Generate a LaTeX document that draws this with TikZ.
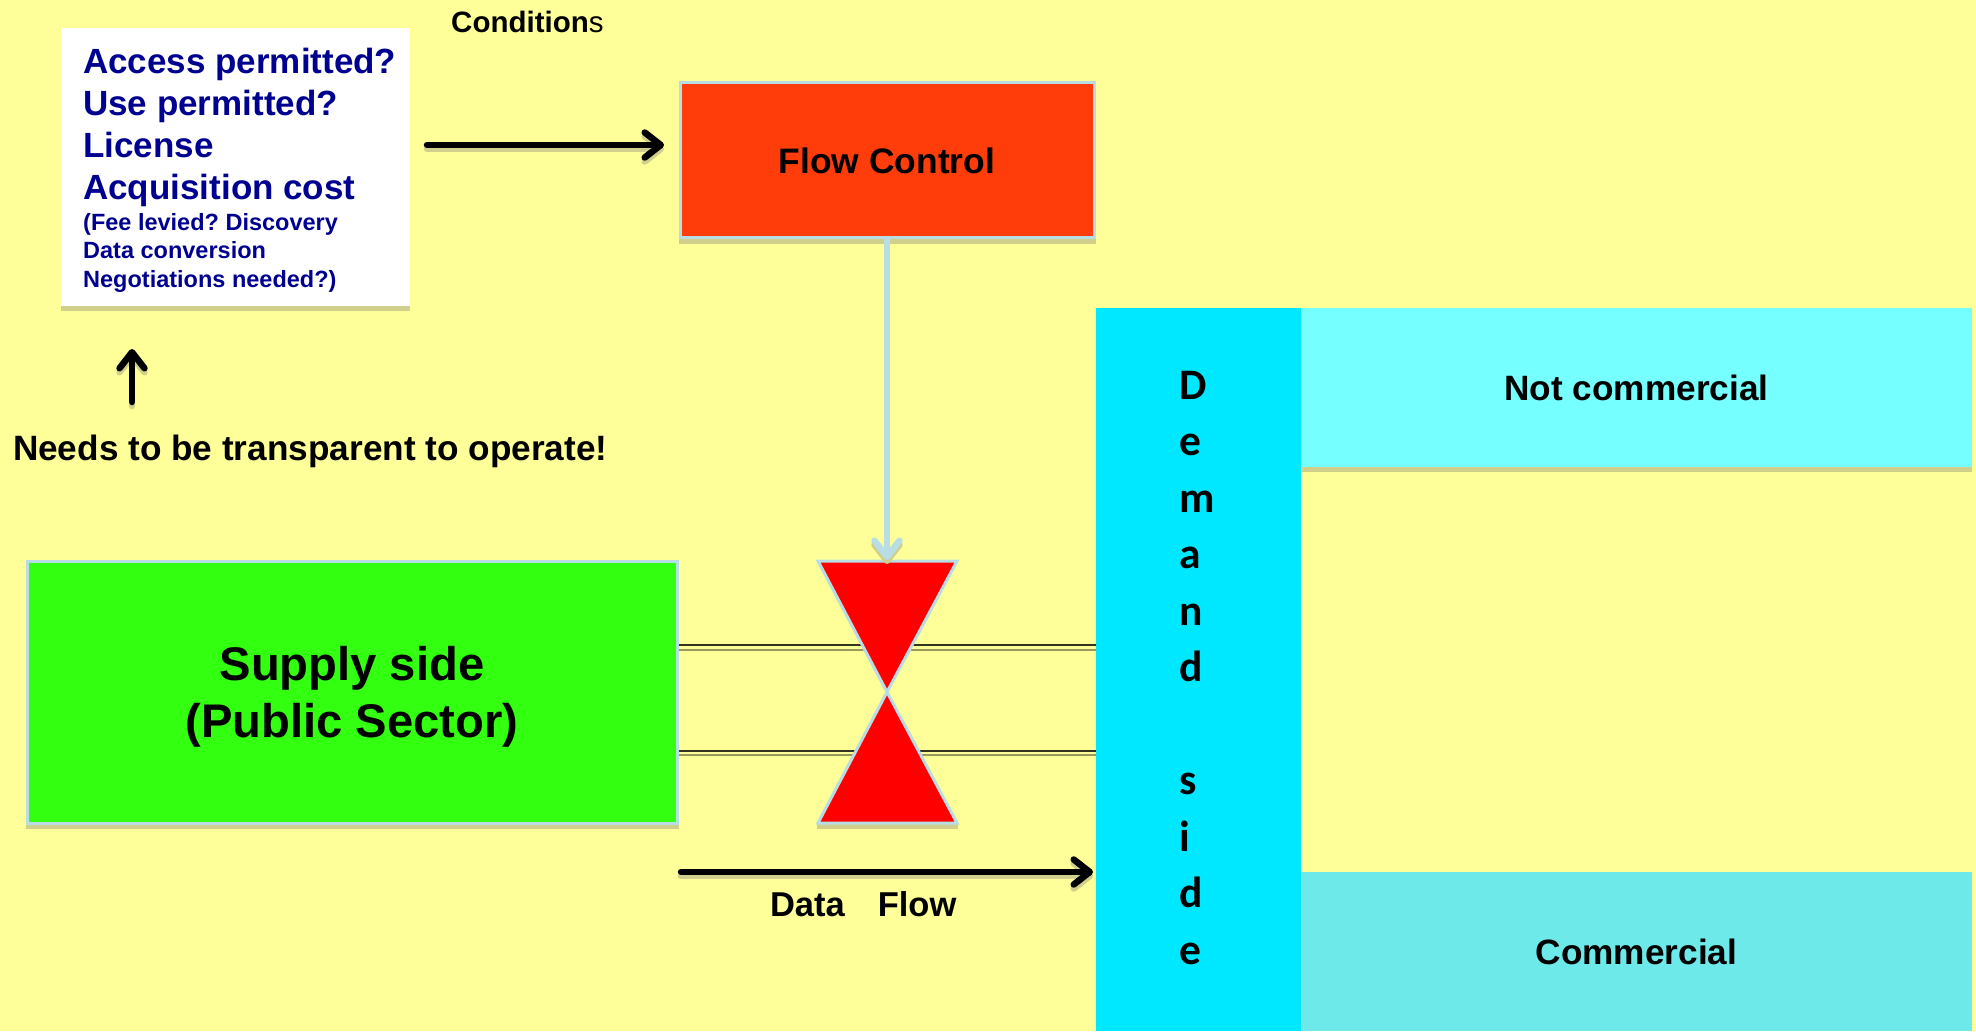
\documentclass[tikz,border=0pt]{standalone}
\usepackage{fontspec}
\setmainfont{Liberation Sans}
\newfontfamily\carlitofont{Carlito}
\usetikzlibrary{arrows.meta}
\frenchspacing
\definecolor{bgc}{HTML}{FFFF99}
\definecolor{shc}{HTML}{D0D08C}
\definecolor{edgec}{HTML}{B8DDE4}
\definecolor{navyc}{HTML}{000090}
\definecolor{flowc}{HTML}{FF3D0A}
\definecolor{greenc}{HTML}{33FF11}
\definecolor{demandc}{HTML}{00E8FF}
\definecolor{notcomc}{HTML}{75FFFF}
\definecolor{comc}{HTML}{6DE9E9}
\newcommand{\fsz}[2]{\fontsize{#1}{#2}\selectfont}
\tikzset{
  boxshape/.style={anchor=north west,inner sep=0pt,outer sep=0pt,align=center},
  edged/.style={draw=edgec,line width=3pt},
  barb/.style={-{Straight Barb[length=16pt,width=25pt,round]},line cap=round},
  blackarrow/.style={draw=black,line width=6.5pt,barb},
  shadowarrow/.style={draw=shc,line width=6.5pt,barb,transform canvas={yshift=-4pt}},
  lbl/.style={inner sep=0pt,outer sep=0pt},
  hline/.style={draw=black!80!bgc,line width=2pt},
  hlineb/.style={draw=black!40!bgc,line width=2pt}
}
\begin{document}
\begin{tikzpicture}[x=1pt,y=-1pt]
\useasboundingbox (0,0) rectangle (1976,1031);
\fill[bgc] (0,0) rectangle (1976,1031);

% shadows
\fill[shc] (61,306) rectangle (410,311);
\fill[shc] (679,238) rectangle (1096,244);
\fill[shc] (26,824) rectangle (679,829);
\fill[shc] (1301,467) rectangle (1972,472);
\fill[shc] (817,824) rectangle (958,829);

% double lines behind the valve
\draw[hlineb] (679,650) -- (1096,650);
\draw[hline] (679,645) -- (1096,645);
\draw[hlineb] (679,755) -- (1096,755);
\draw[hline] (679,751) -- (1096,751);

% boxes
\node[boxshape,fill=white,minimum width=349pt,minimum height=278pt] (cond) at (61,28) {};
\node[boxshape,fill=flowc,edged,minimum width=414pt,minimum height=155pt] (flow) at (680,82) {};
\node[lbl,font=\bfseries\fsz{35.4}{36}] (flowtxt) at (887,161) {Flow Control};
\node[boxshape,fill=greenc,edged,minimum width=650pt,minimum height=262pt] (supply) at (27,561) {};
\node[lbl,font=\bfseries\fsz{47.2}{57},align=center] (supplytxt) at (352,697) {Supply side\\(Public Sector)};
\node[boxshape,fill=demandc,minimum width=205pt,minimum height=723pt] (demand) at (1096,308) {};
\node[boxshape,fill=notcomc,minimum width=671pt,minimum height=159pt] (notcom) at (1301,308) {};
\node[boxshape,fill=comc,minimum width=671pt,minimum height=159pt] (com) at (1301,872) {};
\node[lbl,font=\bfseries\fsz{35.2}{36}] (notcomtxt) at (notcom.center) {Not commercial};
\node[lbl,font=\bfseries\fsz{35.2}{36}] (comtxt) at (com.center) {Commercial};

% valve
\coordinate (vtl) at (818,561);
\coordinate (vtr) at (957,561);
\coordinate (vm) at (887,692);
\coordinate (vbl) at (818,823);
\coordinate (vbr) at (957,823);
\coordinate (vtop) at (887,560);
\filldraw[fill=red,edged,line join=miter] (vtl) -- (vtr) -- (vm) -- cycle;
\filldraw[fill=red,edged,line join=miter] (vbl) -- (vbr) -- (vm) -- cycle;

% demand text
\node[anchor=north west,inner sep=0pt,align=left,font=\carlitofont\bfseries\fsz{43.5}{56.5}] (demandtxt) at (1179,371)
 {D\\e\\m\\a\\n\\d\\[56.5pt]s\\i\\d\\e};

% text blocks
\node[anchor=base west,inner sep=0pt,text=navyc,font=\bfseries\fsz{35}{42},align=left] (t1) at (83,199)
 {Access permitted?\\Use permitted?\\License\\Acquisition cost};
\node[anchor=base west,inner sep=0pt,text=navyc,font=\bfseries\fsz{23.5}{28.5},align=left] (t2) at (83,287)
 {(Fee levied? Discovery\\Data conversion\\Negotiations needed?)};
\node[anchor=base west,inner sep=0pt,font=\fsz{29.5}{30}] (condtxt) at (451,32) {\textbf{Condition}s};
\node[anchor=base west,lbl,font=\bfseries\fsz{35.2}{36}] (needs) at (13,460) {Needs to be transparent to operate!};
\node[anchor=base west,lbl,font=\bfseries\fsz{34.5}{35}] (dataflow) at (770,916) {Data\hspace{33pt}Flow};

% connectors
\coordinate (a1s) at (427,145);
\coordinate (a1e) at (664,145);
\draw[shadowarrow] (a1s) -- (a1e);
\draw[blackarrow] (a1s) -- (a1e);
\coordinate (a2s) at (132,402);
\coordinate (a2e) at (132,349);
\draw[shadowarrow] (a2s) -- (a2e);
\draw[blackarrow] (a2s) -- (a2e);
\coordinate (a3s) at (681,872);
\coordinate (a3e) at (1093,872);
\draw[shadowarrow] (a3s) -- (a3e);
\draw[blackarrow] (a3s) -- (a3e);
\draw[shadowarrow,line cap=butt] (flow.south) -- (vtop);
\draw[draw=edgec,line width=6.5pt,barb,line cap=butt] (flow.south) -- (vtop);
\end{tikzpicture}
\end{document}
